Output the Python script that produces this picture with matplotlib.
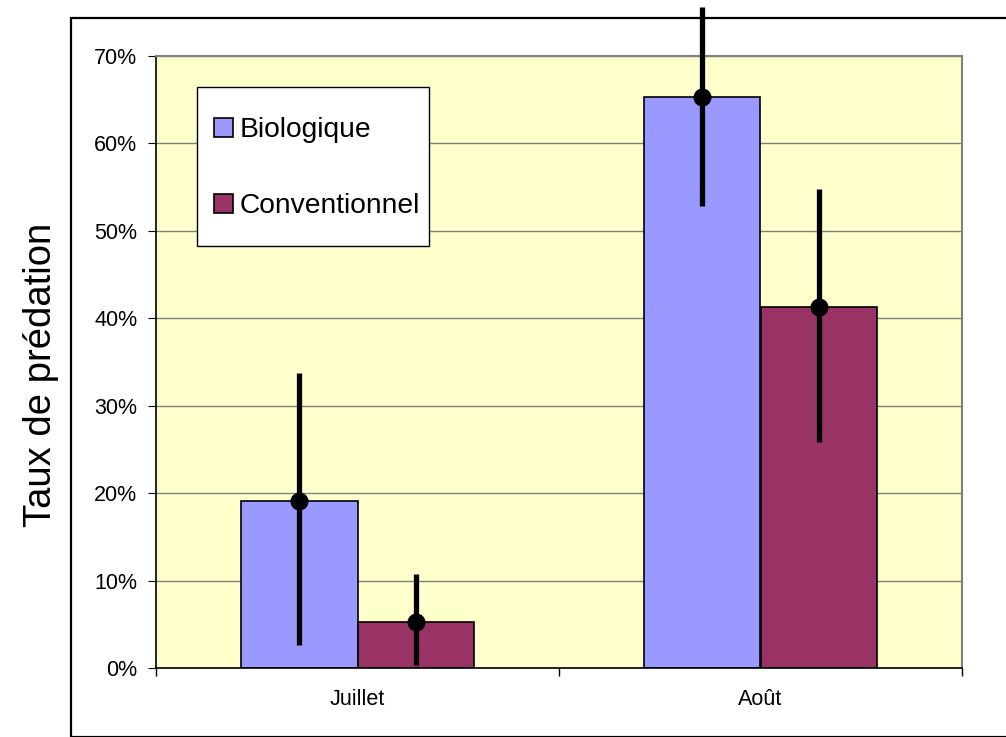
import numpy as np
import matplotlib
matplotlib.use("Agg")
import matplotlib.pyplot as plt
from matplotlib.patches import Rectangle
from matplotlib.ticker import FuncFormatter, FixedLocator

plt.rcParams['font.family'] = ['Liberation Sans', 'DejaVu Sans']

months = ["Juillet", "Août"]
series = ["Biologique", "Conventionnel"]
colors = ["#9999ff", "#993366"]
# taux de predation (fraction) and error bar ends
bio = [0.191, 0.653]
bio_low = [0.026, 0.528]
bio_high = [0.337, 0.756]
conv = [0.053, 0.413]
conv_low = [0.003, 0.258]
conv_high = [0.1075, 0.548]

W, H = 1006, 737
fig = plt.figure(figsize=(W / 100, H / 100), dpi=100)
# outer chart frame
fig.patches.append(Rectangle((71 / W, 0), 1.0, 1 - 18 / H, transform=fig.transFigure,
                             fill=False, edgecolor="black", linewidth=1.6, zorder=0))

ax_l, ax_r, ax_t, ax_b = 156, 962, 56, 668
ax = fig.add_axes([ax_l / W, 1 - ax_b / H, (ax_r - ax_l) / W, (ax_b - ax_t) / H])
ax.set_facecolor("#ffffcc")

def px2ax(px, py):
    return (px - ax_l) / (ax_r - ax_l), (ax_b - py) / (ax_b - ax_t)

x = np.arange(len(months))
bw = 0.288
for i, (vals, lo, hi) in enumerate([(bio, bio_low, bio_high), (conv, conv_low, conv_high)]):
    pos = x + (i - 0.5) * bw
    vals = np.array(vals)
    ax.bar(pos, vals, bw, color=colors[i], edgecolor="black", linewidth=1.2,
           label=series[i], zorder=2)
    yerr = [vals - np.array(lo), np.array(hi) - vals]
    ax.errorbar(pos, vals, yerr=yerr, fmt="o", color="black", ms=12, elinewidth=3.8,
                capsize=0, zorder=3, clip_on=False)

ax.set_xlim(-0.5, 1.5)
ax.set_ylim(0, 0.70)
ax.yaxis.set_major_locator(FixedLocator(np.arange(0, 0.71, 0.1)))
ax.yaxis.set_major_formatter(FuncFormatter(lambda v, p: f"{v*100:.0f}%"))
ax.grid(axis="y", color="#808080", linewidth=1.0, zorder=1)
ax.set_axisbelow(True)

ax.set_xticks([-0.5, 0.5, 1.5])
ax.set_xticklabels([])
ax.set_xticks(x, minor=True)
ax.set_xticklabels(months, minor=True)
ax.tick_params(axis="x", which="minor", length=0, pad=15, labelsize=15.5)
ax.tick_params(axis="x", which="major", length=5.5, direction="out", width=1, colors="black")
ax.tick_params(axis="y", length=5.5, direction="out", labelsize=15.5, pad=8)

for side in ["top", "right"]:
    ax.spines[side].set_color("#808080")
    ax.spines[side].set_linewidth(1.5)
for side in ["left", "bottom"]:
    ax.spines[side].set_color("black")
    ax.spines[side].set_linewidth(1.2)

fig.text(41 / W, 1 - 375 / H, "Taux de prédation", rotation=90, ha="center", va="center",
         fontsize=27.5)

# legend box (pixel coords x 197-429, y 87-246)
bx0, by0 = px2ax(197, 246)
bx1, by1 = px2ax(429, 87)
ax.add_patch(Rectangle((bx0, by0), bx1 - bx0, by1 - by0, transform=ax.transAxes,
                       facecolor="white", edgecolor="black", linewidth=1.0, zorder=4))
leg = ax.legend(loc="upper left", bbox_to_anchor=px2ax(214, 117), frameon=False,
                fontsize=20.3, handlelength=0.67, handleheight=0.67, handletextpad=0.25,
                labelspacing=1.78, borderpad=0, borderaxespad=0)
leg.set_zorder(5)

fig.savefig("out.png", dpi=100)
